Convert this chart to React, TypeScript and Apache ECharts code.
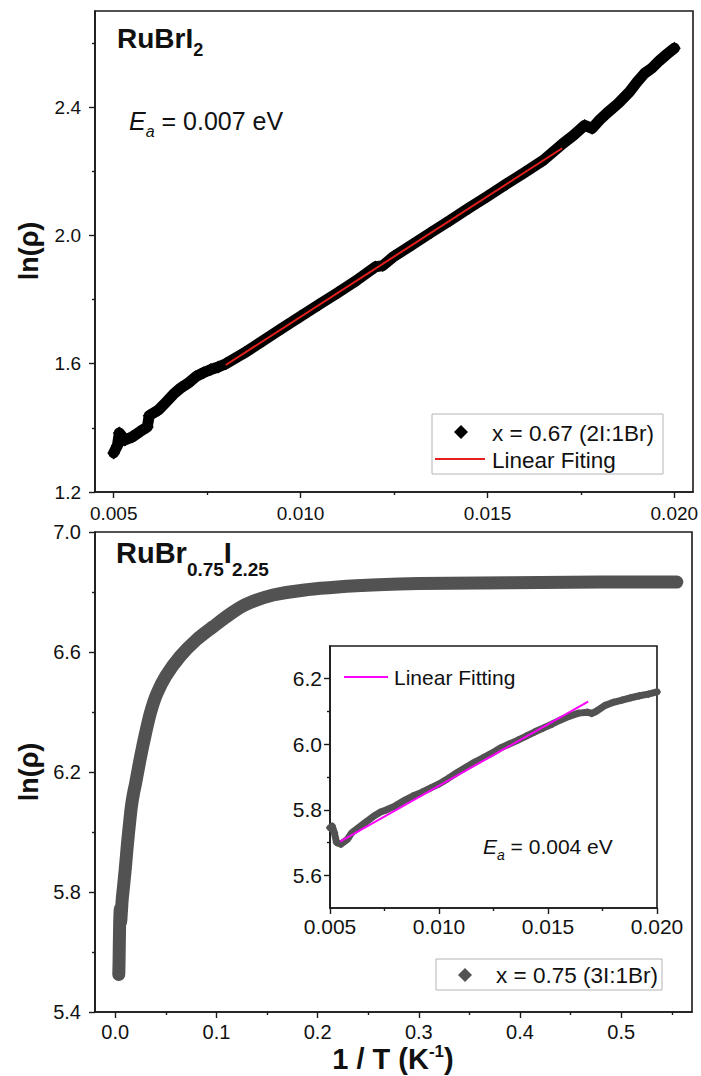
import React, { useEffect, useRef } from "react";
import * as echarts from "echarts";

// ---------- data ----------
const topX = [0.005, 0.0051, 0.00515, 0.0053, 0.0055, 0.0057, 0.0059, 0.00595, 0.0062, 0.0064, 0.0066, 0.0068, 0.007, 0.0072, 0.0074, 0.0076, 0.0078, 0.008, 0.0085, 0.009, 0.0095, 0.01, 0.0105, 0.011, 0.0115, 0.012, 0.0122, 0.0125, 0.013, 0.0135, 0.014, 0.0145, 0.015, 0.0155, 0.016, 0.0165, 0.017, 0.0173, 0.0176, 0.0178, 0.018, 0.0182, 0.0185, 0.0188, 0.019, 0.0192, 0.0194, 0.0196, 0.0198, 0.02];
const topY = [1.322, 1.345, 1.384, 1.362, 1.372, 1.388, 1.403, 1.438, 1.456, 1.48, 1.505, 1.525, 1.54, 1.56, 1.572, 1.582, 1.59, 1.6, 1.634, 1.672, 1.71, 1.748, 1.785, 1.822, 1.86, 1.902, 1.906, 1.935, 1.972, 2.01, 2.047, 2.085, 2.122, 2.16, 2.197, 2.235, 2.285, 2.312, 2.343, 2.334, 2.36, 2.382, 2.412, 2.448, 2.478, 2.505, 2.522, 2.545, 2.565, 2.584];
const topFitX = [0.008, 0.017];
const topFitY = [1.596, 2.272];

const botX = [0.0035, 0.0038, 0.004, 0.0042, 0.0044, 0.0047, 0.005, 0.0054, 0.006, 0.007, 0.008, 0.01, 0.012, 0.014, 0.016, 0.018, 0.02, 0.025, 0.03, 0.035, 0.041, 0.05, 0.064, 0.08, 0.097, 0.115, 0.13, 0.156, 0.19, 0.22, 0.26, 0.3, 0.36, 0.42, 0.48, 0.555];
const botY = [5.525, 5.57, 5.62, 5.66, 5.7, 5.73, 5.745, 5.7, 5.73, 5.78, 5.812, 5.88, 5.958, 6.025, 6.086, 6.128, 6.16, 6.25, 6.33, 6.4, 6.46, 6.52, 6.585, 6.64, 6.685, 6.73, 6.76, 6.79, 6.808, 6.817, 6.824, 6.828, 6.83, 6.832, 6.833, 6.833];

const insetX = [0.005, 0.0051, 0.0052, 0.0053, 0.0055, 0.0058, 0.006, 0.0063, 0.0066, 0.007, 0.0073, 0.0076, 0.008, 0.0084, 0.0088, 0.0092, 0.0096, 0.01, 0.0104, 0.0108, 0.0112, 0.0116, 0.012, 0.0124, 0.0128, 0.0132, 0.0136, 0.014, 0.0144, 0.0148, 0.0152, 0.0156, 0.016, 0.0164, 0.0168, 0.017, 0.0172, 0.0176, 0.018, 0.0184, 0.0188, 0.0192, 0.0196, 0.02];
const insetY = [5.745, 5.75, 5.73, 5.7, 5.695, 5.71, 5.73, 5.745, 5.76, 5.78, 5.792, 5.8, 5.812, 5.828, 5.842, 5.853, 5.866, 5.879, 5.895, 5.912, 5.928, 5.944, 5.958, 5.972, 5.988, 6.0, 6.012, 6.025, 6.038, 6.05, 6.062, 6.075, 6.086, 6.095, 6.098, 6.094, 6.1, 6.118, 6.128, 6.135, 6.142, 6.148, 6.153, 6.16];
const insetFitX = [0.00546, 0.01684];
const insetFitY = [5.703, 6.13];

// tick values
const topXTicks = [0.005, 0.01, 0.015, 0.02];
const topXMinor = [0.0075, 0.0125, 0.0175];
const topYTicks = [1.2, 1.6, 2.0, 2.4];
const topYMinor = [1.4, 1.8, 2.2, 2.6];
const botXTicks = [0, 0.1, 0.2, 0.3, 0.4, 0.5];
const botXMinor = [0.05, 0.15, 0.25, 0.35, 0.45, 0.55];
const botYTicks = [5.4, 5.8, 6.2, 6.6, 7.0];
const botYMinor = [5.6, 6.0, 6.4, 6.8];
const insetXTicks = [0.005, 0.01, 0.015, 0.02];
const insetXMinor = [0.0075, 0.0125, 0.0175];
const insetYTicks = [5.6, 5.8, 6.0, 6.2];
const insetYMinor = [5.7, 5.9, 6.1];

const nameTop = "x = 0.67 (2I:1Br)";
const nameTopFit = "Linear Fiting";
const nameBot = "x = 0.75 (3I:1Br)";
const nameInset = "x = 0.75 inset";
const nameInsetFit = "Linear Fitting";

const FONT = "'Liberation Sans', Arial, Helvetica, sans-serif";
const AX = "#1a1a1a";
const GRAY = "#525252";
const RED = "#e3201b";
const MAGENTA = "#ff00ff";

const pair = (xs: number[], ys: number[]) => xs.map((x, i) => [x, ys[i]]);

function majorAxis(gridIndex: number, min: number, max: number, ticks: number[], dec: number, margin: number, fontSize: number) {
  return {
    type: "value",
    gridIndex,
    min,
    max,
    axisLine: { show: true, onZero: false, lineStyle: { color: AX, width: 1.6 } },
    axisTick: { show: true, inside: false, length: 6, customValues: ticks, lineStyle: { color: AX, width: 1.4 } },
    axisLabel: {
      show: true,
      customValues: ticks,
      formatter: (v: number) => v.toFixed(dec),
      margin,
      fontSize,
      color: "#111",
      fontFamily: FONT,
    },
    splitLine: { show: false },
  };
}

function minorAxis(gridIndex: number, min: number, max: number, ticks: number[]) {
  return {
    type: "value",
    gridIndex,
    min,
    max,
    axisLine: { show: false, onZero: false },
    axisTick: { show: true, inside: false, length: 3, customValues: ticks, lineStyle: { color: AX, width: 1.4 } },
    axisLabel: { show: false },
    splitLine: { show: false },
  };
}

const gridTop = { left: 95, top: 11, width: 598, height: 481 };
const gridBot = { left: 95, top: 532, width: 597, height: 480 };
const gridIns = { left: 330, top: 646, width: 327, height: 262 };

const gridStyle = { show: true, borderColor: AX, borderWidth: 1.6, backgroundColor: "transparent", containLabel: false, outerBoundsMode: "none" };

const txt = (x: number, y: number, text: string, fontSize: number) => ({
  type: "text",
  x,
  y,
  z: 20,
  style: { text, fontSize, fontFamily: FONT, fill: "#111", verticalAlign: "middle", textAlign: "left" },
});
const diamond = (cx: number, cy: number, r: number, color: string) => ({
  type: "polygon",
  z: 20,
  shape: { points: [[cx, cy - r], [cx + r, cy], [cx, cy + r], [cx - r, cy]] },
  style: { fill: color },
});
const hline = (x1: number, x2: number, y: number, color: string) => ({
  type: "line",
  z: 20,
  shape: { x1, y1: y, x2, y2: y },
  style: { stroke: color, lineWidth: 2 },
});

const option: any = {
  animation: false,
  backgroundColor: "#fff",
  grid: [
    { ...gridTop, ...gridStyle },
    { ...gridBot, ...gridStyle },
    { ...gridIns, ...gridStyle },
    { ...gridTop, show: false, outerBoundsMode: "none" },
    { ...gridBot, show: false, outerBoundsMode: "none" },
    { ...gridIns, show: false, outerBoundsMode: "none" },
  ],
  xAxis: [
    { ...majorAxis(0, 0.0045, 0.0205, topXTicks, 3, 12, 19), position: "bottom" },
    { ...majorAxis(1, -0.02, 0.57, botXTicks, 1, 10, 20), position: "bottom" },
    { ...majorAxis(2, 0.005, 0.02, insetXTicks, 3, 8, 21), position: "bottom" },
    { ...minorAxis(3, 0.0045, 0.0205, topXMinor), position: "bottom" },
    { ...minorAxis(4, -0.02, 0.57, botXMinor), position: "bottom" },
    { ...minorAxis(5, 0.005, 0.02, insetXMinor), position: "bottom" },
  ],
  yAxis: [
    { ...majorAxis(0, 1.2, 2.7, topYTicks, 1, 14, 19), position: "left" },
    { ...majorAxis(1, 5.4, 7.0, botYTicks, 1, 14, 20), position: "left" },
    { ...majorAxis(2, 5.5, 6.3, insetYTicks, 1, 8, 21), position: "left" },
    { ...minorAxis(3, 1.2, 2.7, topYMinor), position: "left" },
    { ...minorAxis(4, 5.4, 7.0, botYMinor), position: "left" },
    { ...minorAxis(5, 5.5, 6.3, insetYMinor), position: "left" },
  ],
  series: [
    {
      type: "line",
      name: nameTop,
      xAxisIndex: 0,
      yAxisIndex: 0,
      data: pair(topX, topY),
      symbol: "diamond",
      symbolSize: 13,
      showAllSymbol: true,
      lineStyle: { color: "#000", width: 11, cap: "round", join: "round" },
      itemStyle: { color: "#000" },
      z: 2,
    },
    {
      type: "line",
      name: nameTopFit,
      xAxisIndex: 0,
      yAxisIndex: 0,
      data: pair(topFitX, topFitY),
      symbol: "none",
      lineStyle: { color: RED, width: 2 },
      itemStyle: { color: RED },
      z: 3,
    },
    {
      type: "line",
      name: nameBot,
      xAxisIndex: 1,
      yAxisIndex: 1,
      data: pair(botX, botY),
      symbol: "diamond",
      symbolSize: 14,
      showSymbol: false,
      smooth: 0.3,
      lineStyle: { color: GRAY, width: 13, cap: "round", join: "round" },
      itemStyle: { color: GRAY },
      z: 2,
    },
    {
      type: "line",
      name: nameInset,
      xAxisIndex: 2,
      yAxisIndex: 2,
      data: pair(insetX, insetY),
      symbol: "diamond",
      symbolSize: 8,
      showAllSymbol: true,
      lineStyle: { color: GRAY, width: 7, cap: "round", join: "round" },
      itemStyle: { color: GRAY },
      z: 2,
    },
    {
      type: "line",
      name: nameInsetFit,
      xAxisIndex: 2,
      yAxisIndex: 2,
      data: pair(insetFitX, insetFitY),
      symbol: "none",
      lineStyle: { color: MAGENTA, width: 2 },
      itemStyle: { color: MAGENTA },
      z: 3,
    },
  ],
  graphic: [
    // legend: top panel
    { type: "rect", z: 19, shape: { x: 432, y: 414, width: 231, height: 60 }, style: { fill: "#fff", stroke: "#b4b4b4", lineWidth: 1 } },
    diamond(461, 432, 7, "#000"),
    txt(492, 433, nameTop, 22.5),
    hline(435, 485, 459, RED),
    txt(492, 460, nameTopFit, 22.5),
    // legend: bottom panel
    { type: "rect", z: 19, shape: { x: 436, y: 959, width: 226, height: 31 }, style: { fill: "#fff", stroke: "#b4b4b4", lineWidth: 1 } },
    diamond(465, 975, 7, GRAY),
    txt(496, 975, nameBot, 22.5),
    // legend: inset
    hline(344, 388, 677, MAGENTA),
    txt(394, 677, nameInsetFit, 21),
    // titles
    {
      type: "text",
      x: 117,
      y: 38,
      z: 10,
      style: {
        text: "{m|RuBrI}{s|2}",
        verticalAlign: "middle",
        rich: {
          m: { fontSize: 28, fontWeight: "bold", fontFamily: FONT, fill: "#111" },
          s: { fontSize: 18, fontWeight: "bold", fontFamily: FONT, fill: "#111", padding: [23, 0, 0, 0] },
        },
      },
    },
    {
      type: "text",
      x: 116,
      y: 553,
      z: 10,
      style: {
        text: "{m|RuBr}{s|0.75}{m|I}{s|2.25}",
        verticalAlign: "middle",
        rich: {
          m: { fontSize: 29, fontWeight: "bold", fontFamily: FONT, fill: "#111" },
          s: { fontSize: 19, fontWeight: "bold", fontFamily: FONT, fill: "#111", padding: [33, 0, 0, 0] },
        },
      },
    },
    {
      type: "text",
      x: 129,
      y: 121,
      z: 10,
      style: {
        text: "{e|E}{a|a}{t| = 0.007 eV}",
        verticalAlign: "middle",
        rich: {
          e: { fontSize: 25, fontStyle: "italic", fontFamily: FONT, fill: "#111" },
          a: { fontSize: 16, fontStyle: "italic", fontFamily: FONT, fill: "#111", padding: [20, 0, 0, 0] },
          t: { fontSize: 25, fontFamily: FONT, fill: "#111" },
        },
      },
    },
    {
      type: "text",
      x: 483,
      y: 846,
      z: 10,
      style: {
        text: "{e|E}{a|a}{t| = 0.004 eV}",
        verticalAlign: "middle",
        rich: {
          e: { fontSize: 21, fontStyle: "italic", fontFamily: FONT, fill: "#111" },
          a: { fontSize: 14, fontStyle: "italic", fontFamily: FONT, fill: "#111", padding: [18, 0, 0, 0] },
          t: { fontSize: 21, fontFamily: FONT, fill: "#111" },
        },
      },
    },
    {
      type: "text",
      x: 29,
      y: 251,
      rotation: Math.PI / 2,
      z: 10,
      style: { text: "ln(ρ)", textAlign: "center", verticalAlign: "middle", fontSize: 27, fontWeight: "bold", fontFamily: FONT, fill: "#111" },
    },
    {
      type: "text",
      x: 29,
      y: 772,
      rotation: Math.PI / 2,
      z: 10,
      style: { text: "ln(ρ)", textAlign: "center", verticalAlign: "middle", fontSize: 27, fontWeight: "bold", fontFamily: FONT, fill: "#111" },
    },
    {
      type: "text",
      x: 393,
      y: 1059,
      z: 10,
      style: {
        text: "{m|1 / T (K}{p|-1}{m|)}",
        textAlign: "center",
        verticalAlign: "middle",
        rich: {
          m: { fontSize: 29, fontWeight: "bold", fontFamily: FONT, fill: "#111" },
          p: { fontSize: 17, fontWeight: "bold", fontFamily: FONT, fill: "#111", padding: [0, 0, 16, 0] },
        },
      },
    },
  ],
};

export default function App() {
  const ref = useRef<HTMLDivElement>(null);
  useEffect(() => {
    if (!ref.current) return;
    const chart = echarts.init(ref.current, null, { renderer: "svg" });
    chart.setOption(option);
    return () => chart.dispose();
  }, []);
  return (
    <div
      ref={ref}
      style={{ position: "absolute", left: 0, top: 0, width: 701, height: 1076, background: "#fff" }}
    />
  );
}
